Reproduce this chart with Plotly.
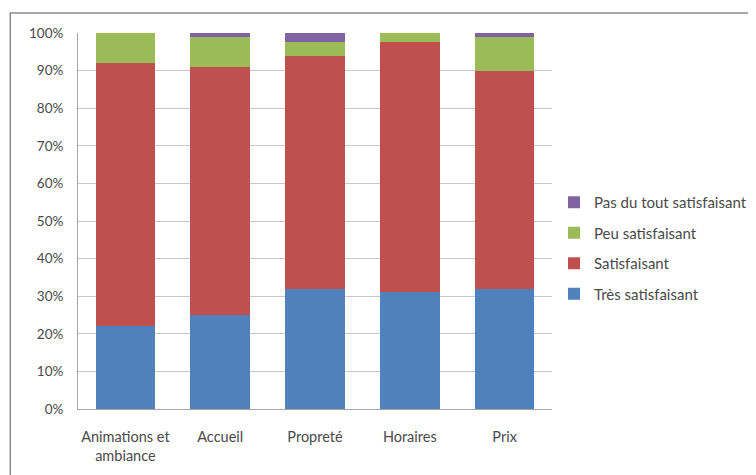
import plotly.graph_objects as go

categories = ["Animations et<br>ambiance", "Accueil", "Propreté", "Horaires", "Prix"]
tres_satisfaisant = [22, 25, 32, 31, 32]
satisfaisant = [70, 66, 62, 66.5, 58]
peu_satisfaisant = [8, 8, 3.5, 2.5, 9]
pas_du_tout = [0, 1, 2.5, 0, 1]
series_names = ["Très satisfaisant", "Satisfaisant", "Peu satisfaisant", "Pas du tout satisfaisant"]
series_values = [tres_satisfaisant, satisfaisant, peu_satisfaisant, pas_du_tout]
colors = ["#4F81BD", "#C0504D", "#9BBB59", "#8064A2"]
y_ticks = list(range(0, 101, 10))

fig = go.Figure()
n = len(series_names)
for i, (name, vals, col) in enumerate(zip(series_names, series_values, colors)):
    fig.add_trace(go.Bar(x=categories, y=vals, name=name, marker=dict(color=col, line=dict(width=0)),
                         legendgroup=name, legendrank=(n - i) * 100))

W, H = 756, 475
# page is rendered with an 8px body margin; coordinates below are figure pixels
L, R, T, B = 70, 210, 25, 74
pw, ph = W - L - R, H - T - B

def px(x):
    return (x - L) / pw

def py(y):
    return (H - B - y) / ph

fig.update_layout(
    width=W, height=H,
    barmode="stack", bargap=0.37,
    margin=dict(l=L, r=R, t=T, b=B),
    paper_bgcolor="white", plot_bgcolor="white",
    font=dict(family="Lato, 'Open Sans', sans-serif", size=14, color="#4a4a4a"),
    legend=dict(traceorder="grouped", x=px(548), xanchor="left", y=py(240), yanchor="middle",
                font=dict(size=15, color="#4a4a4a"), tracegroupgap=8, bgcolor="rgba(0,0,0,0)"),
    xaxis=dict(showline=True, linecolor="#A6A6A6", linewidth=1, tickfont=dict(size=14.5),
               showgrid=False, ticks="outside", ticklen=15, tickcolor="rgba(0,0,0,0)"),
    yaxis=dict(range=[0, 100], tickvals=y_ticks, ticktext=[f"{v}%" for v in y_ticks],
               showgrid=True, gridcolor="#C8C8C8", gridwidth=1, showline=True,
               linecolor="#A6A6A6", linewidth=1, ticks="outside", ticklen=11,
               tickcolor="rgba(0,0,0,0)", zeroline=False, tickfont=dict(size=13.5)),
    shapes=[dict(type="rect", xref="paper", yref="paper", x0=px(2), x1=px(770), y0=py(490), y1=py(5),
                 line=dict(color="#8C8C8C", width=1.5), fillcolor="rgba(0,0,0,0)", layer="below")],
)

fig.write_html("out.html")
